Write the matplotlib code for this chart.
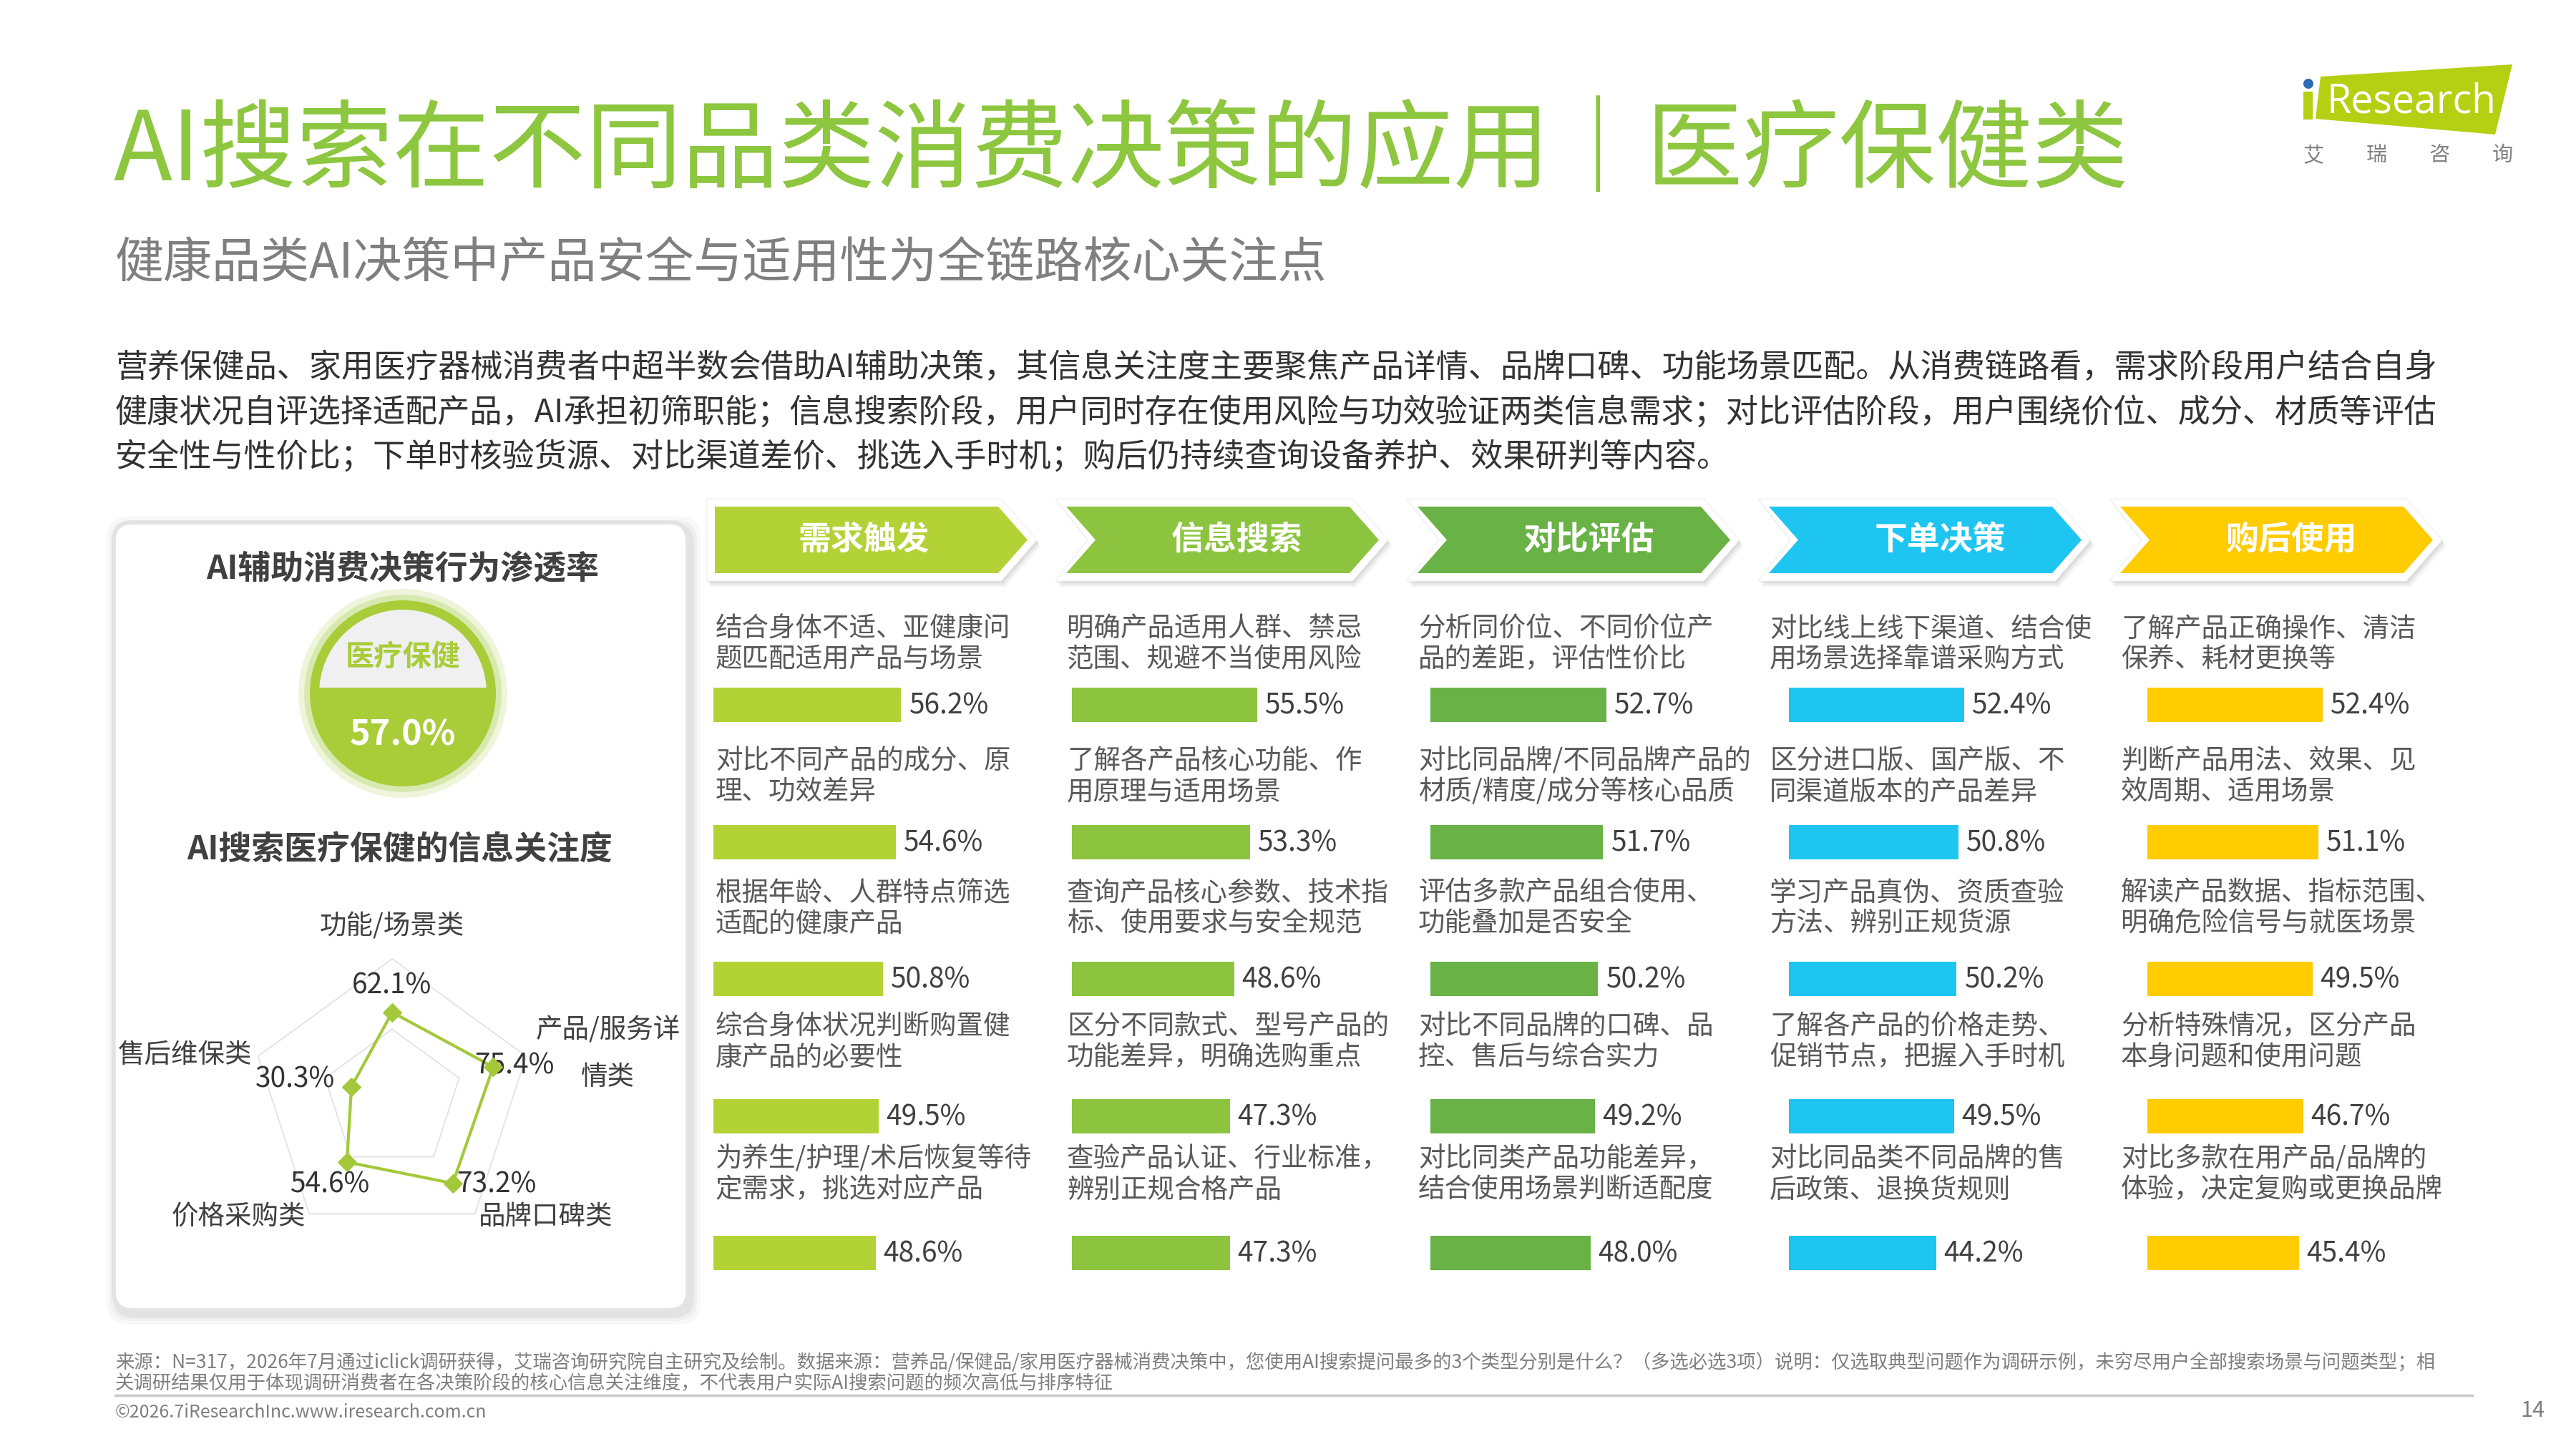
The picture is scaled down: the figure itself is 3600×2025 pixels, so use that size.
import numpy as np
import matplotlib
matplotlib.use('Agg')
import matplotlib.pyplot as plt
from matplotlib.patches import Polygon, FancyBboxPatch, Circle, Rectangle

plt.rcParams['font.family'] = ['Noto Sans CJK SC', 'DejaVu Sans']

W, H = 3600, 2025
DPI = 100

# ---------------- data ----------------
title = 'AI搜索在不同品类消费决策的应用｜医疗保健类'
subtitle = '健康品类AI决策中产品安全与适用性为全链路核心关注点'
intro_lines = [
    '营养保健品、家用医疗器械消费者中超半数会借助AI辅助决策，其信息关注度主要聚焦产品详情、品牌口碑、功能场景匹配。从消费链路看，需求阶段用户结合自身',
    '健康状况自评选择适配产品，AI承担初筛职能；信息搜索阶段，用户同时存在使用风险与功效验证两类信息需求；对比评估阶段，用户围绕价位、成分、材质等评估',
    '安全性与性价比；下单时核验货源、对比渠道差价、挑选入手时机；购后仍持续查询设备养护、效果研判等内容。',
]

panel_title1 = 'AI辅助消费决策行为渗透率'
panel_title2 = 'AI搜索医疗保健的信息关注度'
penetration_label = '医疗保健'
penetration_value = 57.0

radar_labels = ['功能/场景类', '产品/服务详\n情类', '品牌口碑类', '价格采购类', '售后维保类']
radar_values = [62.1, 75.4, 73.2, 54.6, 30.3]

stages = ['需求触发', '信息搜索', '对比评估', '下单决策', '购后使用']
stage_colors = ['#b3d235', '#8cc43f', '#69b246', '#1ec5f0', '#ffcc00']

stage1_items = ['结合身体不适、亚健康问\n题匹配适用产品与场景',
                '对比不同产品的成分、原\n理、功效差异',
                '根据年龄、人群特点筛选\n适配的健康产品',
                '综合身体状况判断购置健\n康产品的必要性',
                '为养生/护理/术后恢复等待\n定需求，挑选对应产品']
stage1_values = [56.2, 54.6, 50.8, 49.5, 48.6]

stage2_items = ['明确产品适用人群、禁忌\n范围、规避不当使用风险',
                '了解各产品核心功能、作\n用原理与适用场景',
                '查询产品核心参数、技术指\n标、使用要求与安全规范',
                '区分不同款式、型号产品的\n功能差异，明确选购重点',
                '查验产品认证、行业标准，\n辨别正规合格产品']
stage2_values = [55.5, 53.3, 48.6, 47.3, 47.3]

stage3_items = ['分析同价位、不同价位产\n品的差距，评估性价比',
                '对比同品牌/不同品牌产品的\n材质/精度/成分等核心品质',
                '评估多款产品组合使用、\n功能叠加是否安全',
                '对比不同品牌的口碑、品\n控、售后与综合实力',
                '对比同类产品功能差异，\n结合使用场景判断适配度']
stage3_values = [52.7, 51.7, 50.2, 49.2, 48.0]

stage4_items = ['对比线上线下渠道、结合使\n用场景选择靠谱采购方式',
                '区分进口版、国产版、不\n同渠道版本的产品差异',
                '学习产品真伪、资质查验\n方法、辨别正规货源',
                '了解各产品的价格走势、\n促销节点，把握入手时机',
                '对比同品类不同品牌的售\n后政策、退换货规则']
stage4_values = [52.4, 50.8, 50.2, 49.5, 44.2]

stage5_items = ['了解产品正确操作、清洁\n保养、耗材更换等',
                '判断产品用法、效果、见\n效周期、适用场景',
                '解读产品数据、指标范围、\n明确危险信号与就医场景',
                '分析特殊情况，区分产品\n本身问题和使用问题',
                '对比多款在用产品/品牌的\n体验，决定复购或更换品牌']
stage5_values = [52.4, 51.1, 49.5, 46.7, 45.4]

stage_items = [stage1_items, stage2_items, stage3_items, stage4_items, stage5_items]
stage_values = [stage1_values, stage2_values, stage3_values, stage4_values, stage5_values]

footer_lines = [
    '来源：N=317，2026年7月通过iclick调研获得，艾瑞咨询研究院自主研究及绘制。数据来源：营养品/保健品/家用医疗器械消费决策中，您使用AI搜索提问最多的3个类型分别是什么？（多选必选3项）说明：仅选取典型问题作为调研示例，未穷尽用户全部搜索场景与问题类型；相',
    '关调研结果仅用于体现调研消费者在各决策阶段的核心信息关注维度，不代表用户实际AI搜索问题的频次高低与排序特征',
]
copyright_text = '©2026.7iResearchInc.www.iresearch.com.cn'
page_no = '14'

# ---------------- figure ----------------
fig = plt.figure(figsize=(W / DPI, H / DPI), dpi=DPI)
ax = fig.add_axes([0, 0, 1, 1])
ax.set_xlim(0, W)
ax.set_ylim(H, 0)
ax.axis('off')


def box(x0, y0, x1, y1):
    # pixel rectangle (top-left origin) -> figure fraction
    return [x0 / W, 1 - y1 / H, (x1 - x0) / W, (y1 - y0) / H]


# title block
ax.text(158, 214, title, fontsize=97, color='#8dc63f', va='center', ha='left', fontweight='light')
ax.text(161, 369, subtitle, fontsize=49, color='#7f7f7f', va='center', ha='left')
for i, line in enumerate(intro_lines):
    ax.text(161, 514 + i * 63, line, fontsize=32.5, color='#333333', va='center', ha='left')

# logo
ax.add_patch(Polygon([(3243, 107), (3511, 90), (3487, 188), (3236, 166)], closed=True,
                     fc='#b5cf12', ec='none'))
ax.add_patch(Rectangle((3219, 128), 13, 39, fc='#b5cf12', ec='none'))
ax.add_patch(Circle((3226, 117), 7, fc='#2f6bb5', ec='none'))
ax.text(3252, 143, 'Research', fontsize=40, color='white', va='center', ha='left', family='Open Sans')
for i, ch in enumerate('艾瑞咨询'):
    ax.text(3233 + i * 88, 217, ch, fontsize=21, color='#808080', va='center', ha='center')

# ---------------- left panel ----------------
for k, a in zip([14, 9, 5], [0.05, 0.07, 0.10]):
    ax.add_patch(FancyBboxPatch((159 - k + 4, 730 - k + 6), 802 + 2 * k, 1101 + 2 * k,
                                boxstyle='round,pad=0,rounding_size=30', fc='#7f7f7f', ec='none', alpha=a))
ax.add_patch(FancyBboxPatch((159, 730), 802, 1101, boxstyle='round,pad=0,rounding_size=26',
                            fc='white', ec='#e3e3e3', lw=4))

ax.text(563, 796, panel_title1, fontsize=33, fontweight='bold', color='#404040', va='center', ha='center')

cx, cy = 563, 969
ax.add_patch(Circle((cx, cy), 146, fc='#cfe39a', ec='none', alpha=0.35))
ax.add_patch(Circle((cx, cy), 138, fc='#c4de86', ec='none', alpha=0.5))
ax.add_patch(Circle((cx, cy), 130, fc='#a9cc39', ec='none'))
top_seg = Circle((cx, cy), 117, fc='#f0f0f0', ec='none')
ax.add_patch(top_seg)
clip = Rectangle((cx - 140, cy - 140), 280, 132, transform=ax.transData)
top_seg.set_clip_path(clip)
ax.text(cx, 918, penetration_label, fontsize=29, fontweight='bold', color='#a9cc39', va='center', ha='center')
ax.text(cx, 1027, f'{penetration_value:.1f}%', fontsize=35, fontweight='bold', color='white',
        va='center', ha='center')

ax.text(559, 1188, panel_title2, fontsize=33, fontweight='bold', color='#404040', va='center', ha='center')

# radar chart
rcx, rcy, R = 548, 1537, 197
span = 1.7
rax = fig.add_axes(box(rcx - R * span, rcy - R * span, rcx + R * span, rcy + R * span))
rax.set_xlim(-100 * span, 100 * span)
rax.set_ylim(-100 * span, 100 * span)
rax.axis('off')
n = len(radar_values)
theta = np.arange(n) * 2 * np.pi / n
for level in [50, 100]:
    gx = level * np.sin(np.append(theta, theta[0]))
    gy = level * np.cos(np.append(theta, theta[0]))
    rax.plot(gx, gy, color='#e2e2e2', lw=1.3, zorder=1)
vals = np.array(radar_values)
px = vals * np.sin(theta)
py = vals * np.cos(theta)
rax.plot(np.append(px, px[0]), np.append(py, py[0]), color='#a3c93a', lw=3, zorder=3)
rax.scatter(px, py, marker='D', s=170, color='#a3c93a', zorder=4)

label_pos = [(0, 123), (153, 49), (109, -83), (-109, -83), (-147, 32)]
value_off = [(0, 19), (15, 1), (31, -1), (-12, -16), (-40, 5)]
for lab, (lx, ly) in zip(radar_labels, label_pos):
    for j, part in enumerate(lab.split('\n')):
        rax.text(lx, ly - j * 33, part, fontsize=27, color='#404040', ha='center', va='center')
for v, x, y, (ox, oy) in zip(radar_values, px, py, value_off):
    rax.text(x + ox, y + oy, f'{v:.1f}%', fontsize=28, color='#333333', ha='center', va='center')

# ---------------- stage columns ----------------
head_top, head_bot = 708, 801
head_mid = (head_top + head_bot) / 2
tip = 41
head_w = 437
text_rows = [879, 1064, 1248, 1435, 1620]
bar_rows = [985, 1177, 1368, 1560, 1751]
px_per_pct = 4.67

for k, (name, col) in enumerate(zip(stages, stage_colors)):
    L = 999 + 491 * k
    Rb = L + head_w - tip
    if k == 0:
        inner = [(L, head_top), (Rb, head_top), (Rb + tip, head_mid), (Rb, head_bot), (L, head_bot)]
    else:
        inner = [(L, head_top), (Rb, head_top), (Rb + tip, head_mid), (Rb, head_bot), (L, head_bot),
                 (L + tip, head_mid)]
    pad = 11
    if k == 0:
        outer = [(L - pad, head_top - pad), (Rb + 4, head_top - pad), (Rb + tip + pad + 2, head_mid),
                 (Rb + 4, head_bot + pad), (L - pad, head_bot + pad)]
    else:
        outer = [(L - pad - 4, head_top - pad), (Rb + 4, head_top - pad), (Rb + tip + pad + 2, head_mid),
                 (Rb + 4, head_bot + pad), (L - pad - 4, head_bot + pad), (L + tip - pad, head_mid)]
    for off, a in [(9, 0.06), (6, 0.09), (3, 0.12)]:
        ax.add_patch(Polygon([(x + off * 0.6, y + off) for x, y in outer], closed=True,
                             fc='#666666', ec='none', alpha=a))
    ax.add_patch(Polygon(outer, closed=True, fc='white', ec='#f2f2f2', lw=1))
    ax.add_patch(Polygon(inner, closed=True, fc=col, ec='none'))
    tx = (L + Rb + tip) / 2 + (tip / 2 if k > 0 else -10)
    ax.text(tx, head_mid, name, fontsize=33, fontweight='bold', color='white', va='center', ha='center')

    # descriptions
    tx0 = 1000 + 491 * k
    for item, ty in zip(stage_items[k], text_rows):
        for j, line in enumerate(item.split('\n')):
            ax.text(tx0, ty + j * 43, line, fontsize=27, color='#595959', va='center', ha='left')

    # bars
    bx0 = 997 + 501 * k
    bax = fig.add_axes(box(bx0, 900, bx0 + px_per_pct * 100, 1800))
    bax.set_xlim(0, 100)
    bax.set_ylim(1800, 900)
    bax.axis('off')
    bax.barh(bar_rows, stage_values[k], height=48, color=col)
    for v, y in zip(stage_values[k], bar_rows):
        bax.text(v + 2.2, y + 2, f'{v:.1f}%', fontsize=28, color='#404040', va='center', ha='left')

# ---------------- footer ----------------
for i, line in enumerate(footer_lines):
    ax.text(161, 1904 + i * 29, line, fontsize=19, color='#7f7f7f', va='center', ha='left')
ax.plot([161, 3455], [1950, 1950], color='#c8c8c8', lw=2.5)
ax.text(161, 1974, copyright_text, fontsize=18, color='#7f7f7f', va='center', ha='left')
ax.text(3556, 1972, page_no, fontsize=22, color='#7f7f7f', va='center', ha='right')

fig.savefig('out.png', dpi=DPI, facecolor='white')
